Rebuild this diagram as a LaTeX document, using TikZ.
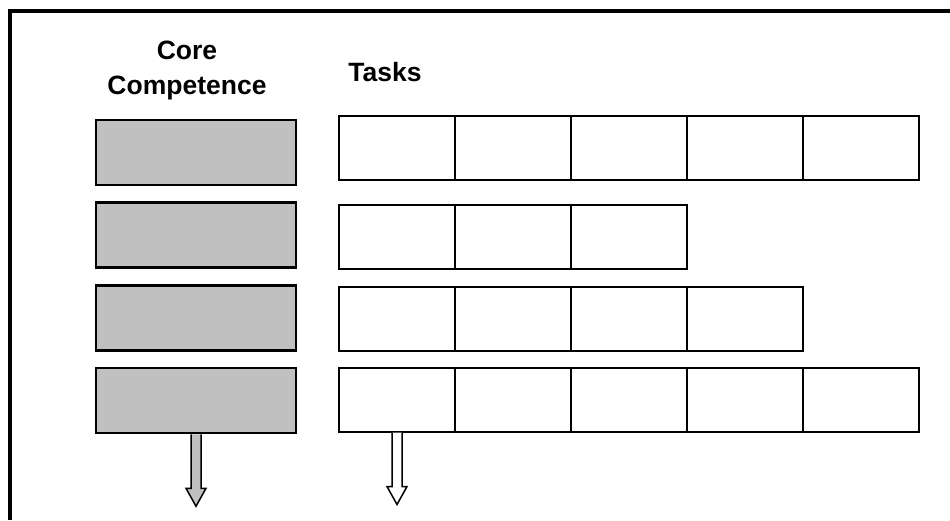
\documentclass[tikz,border=0pt]{standalone}
\usepackage{fontspec}
\setmainfont{Liberation Sans}
\definecolor{coregray}{HTML}{C0C0C0}
\tikzset{
  corebox/.style={draw, line width=2.6pt, fill=coregray, minimum width=200pt, minimum height=65pt, inner sep=0pt},
  taskcell/.style={draw, line width=2pt, fill=white, minimum width=116pt, minimum height=64pt, inner sep=0pt},
  heading/.style={font=\fontsize{26.5}{35}\selectfont\bfseries, align=center, inner sep=0pt}
}
\begin{document}
\begin{tikzpicture}[x=1pt, y=-1pt, line join=miter]
\useasboundingbox (0,0) rectangle (950,520);
\draw[line width=4pt] (10,520) -- (10,11) -- (950,11);
\node[heading] (core) at (187,70) {Core\\Competence};
\node[heading] (tasks) at (385,72) {Tasks};
% core competences and their rows of tasks
\foreach \r/\yc/\yt/\n in {1/152.5/148/5, 2/235/236.5/3, 3/318/319/4, 4/400.5/399.5/5}{
  \node[corebox] (core\r) at (196,\yc) {};
  \foreach \c in {1,...,\n}
    \node[taskcell] (t\r-\c) at ({281+116*\c},\yt) {};
}
\draw[line width=1.5pt, fill=coregray] ([xshift=-5pt]core4.south) -- ++(0,54) -- ++(-5,0) -- ++(10,18) -- ++(10,-18) -- ++(-5,0) -- ([xshift=5pt]core4.south);
\draw[line width=1.5pt, fill=white] ([xshift=-5pt]t4-1.south) -- ++(0,54) -- ++(-5,0) -- ++(10,18) -- ++(10,-18) -- ++(-5,0) -- ([xshift=5pt]t4-1.south);
\end{tikzpicture}
\end{document}
